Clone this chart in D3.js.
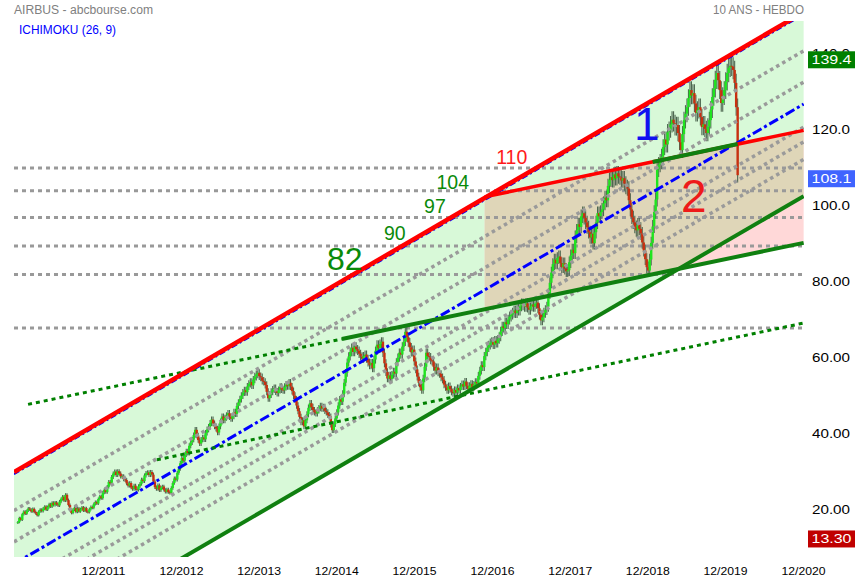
<!DOCTYPE html>
<html><head><meta charset="utf-8">
<script src="https://cdn.jsdelivr.net/npm/d3@7"></script>
<style>
body{margin:0;background:#fff;}
svg{display:block;font-family:Arial,"Liberation Sans",sans-serif;}
</style></head><body>
<svg id="c" width="855" height="580"></svg>
<script>
// ---------- DATA ----------
const weekStart = "2010-10-27";
const firstOpen = 16.6;
const closes = [
16.8,17.9,17.4,18.9,19.6,19.0,19.8,20.4,20.1,19.6,
20.3,19.5,19.1,18.6,19.6,20.1,19.7,20.4,20.9,20.1,
20.8,21.5,20.9,21.9,21.3,22.0,21.5,21.2,22.2,22.9,
23.5,22.5,24.0,22.6,21.3,20.0,19.2,20.1,20.6,19.5,
20.4,19.6,20.2,20.7,19.8,20.5,19.6,19.4,20.2,20.8,
20.6,21.6,22.1,21.7,22.9,23.6,23.1,24.6,25.3,24.7,
26.1,27.4,27.0,28.7,29.6,30.1,29.2,30.2,29.6,28.8,
28.9,28.1,27.9,27.0,26.4,27.1,25.9,25.5,26.4,25.6,
25.3,26.3,26.9,28.0,27.6,29.1,29.7,29.9,29.2,30.0,
29.3,27.5,26.0,25.5,26.5,25.2,25.9,26.2,25.3,24.8,
25.4,24.7,24.5,25.8,27.1,28.3,28.0,29.8,30.9,32.3,
33.7,33.0,34.6,35.5,35.0,36.9,37.8,38.5,39.7,41.1,
39.6,38.4,37.5,38.5,39.1,38.6,40.3,41.2,41.9,42.9,
43.8,42.8,42.0,41.4,40.4,42.0,43.3,44.6,43.6,44.3,
44.9,45.5,44.5,44.0,44.7,45.8,45.3,47.4,48.3,49.2,
50.1,50.9,51.5,51.0,52.5,53.2,53.7,52.8,54.3,55.1,
55.7,56.1,55.2,54.9,54.0,53.7,52.9,51.1,49.4,50.4,
51.1,51.7,52.1,51.2,50.8,51.6,52.4,51.7,51.5,52.4,
53.0,52.6,53.5,52.5,51.3,50.1,49.1,47.5,46.0,44.5,
43.1,43.6,42.0,43.6,45.2,46.9,48.1,47.1,46.3,45.7,
45.4,46.2,46.8,47.4,46.7,47.1,46.1,45.7,45.0,44.6,
42.5,41.0,42.6,44.1,45.7,47.5,49.1,48.5,50.6,53.5,
56.1,58.8,60.4,61.6,62.7,61.6,63.0,62.3,61.9,61.1,
60.4,59.8,60.5,60.9,59.8,58.8,58.1,58.7,57.3,59.6,
61.9,63.5,62.6,63.7,64.3,61.4,58.6,56.3,54.6,55.4,
54.5,55.6,56.4,55.9,58.9,60.1,61.4,60.9,63.0,64.3,
66.9,65.5,64.1,62.8,61.5,62.2,59.1,57.0,55.1,53.5,
52.3,51.5,54.6,57.7,61.4,60.5,60.2,59.4,59.1,57.7,
56.7,57.5,56.2,55.8,54.9,54.3,53.0,52.3,51.5,52.6,
51.8,51.1,50.7,51.6,50.9,52.1,51.5,52.5,53.1,52.5,
53.8,52.7,51.9,52.7,53.2,52.3,53.0,53.7,53.3,55.3,
56.7,58.1,57.6,60.5,61.6,62.7,63.4,64.0,64.3,63.5,
64.6,63.9,64.9,65.6,67.0,68.3,67.9,69.4,68.9,70.1,
70.9,71.4,71.9,72.5,71.8,73.3,72.5,73.6,74.3,73.9,
73.5,74.4,73.3,72.7,73.6,74.1,73.5,74.3,74.6,73.1,
71.4,69.9,70.7,71.9,72.6,73.5,76.9,79.8,82.5,84.7,
85.9,84.9,86.3,86.7,85.0,83.9,84.9,83.5,82.8,83.1,
85.2,87.0,88.5,87.6,91.9,93.6,95.2,94.5,97.3,98.1,
96.9,95.7,94.4,93.1,91.7,92.7,90.2,93.1,95.7,98.1,
97.3,98.4,99.1,100.7,102.2,101.5,105.3,106.9,107.6,106.8,
108.3,107.3,108.6,107.8,107.5,106.7,107.3,105.9,105.0,104.6,
101.5,99.1,97.0,95.7,94.5,93.6,95.1,94.0,92.8,90.4,
88.3,86.0,83.9,83.0,85.9,90.3,94.6,98.4,101.7,109.6,
110.9,111.7,113.0,115.5,117.5,116.2,119.4,120.1,121.5,122.7,
121.8,120.7,121.3,119.2,116.8,114.7,118.9,122.6,124.3,126.0,
128.4,130.5,129.1,129.7,127.0,124.5,125.3,126.0,123.4,120.8,
121.5,120.3,119.2,120.9,122.6,125.4,128.7,130.9,133.2,135.0,
133.1,130.5,127.1,128.9,130.5,132.8,135.0,136.4,136.9,136.7,
135.8,132.4,126.0,108.1
];
const wickPct = 0.018;

const yTicks = [20,40,60,80,100,120,140];
const yTickLabels = ["20.00","40.00","60.00","80.00","100.0","120.0","140.0"];
const xTickDates = ["2011-12-01","2012-12-01","2013-12-01","2014-12-01","2015-12-01","2016-12-01","2017-12-01","2018-12-01","2019-12-01","2020-12-01"];
const xTickLabels = ["12/2011","12/2012","12/2013","12/2014","12/2015","12/2016","12/2017","12/2018","12/2019","12/2020"];

const channelTop = [["2010-10-09",30.0],["2020-12-04",151.0]];
const channelBottom = [["2010-10-09",-18.4],["2020-12-04",102.6]];
const fibLevels = [0.21,0.38,0.625,0.705,0.8];
const midLevel = 0.5;
const targetTop = [["2016-10-28",102.4],["2020-12-04",119.9]];
const supportDotted = [["2010-12-14",47.8],["2014-12-27",65.0]];
const supportSolid = [["2014-12-27",65.0],["2020-12-04",90.3]];
const supportHighlight = [["2018-12-26",111.6],["2020-01-29",116.3]];
const lowerSupport = [["2012-08-10",33.2],["2020-12-04",69.2]];
const hLevels = [110,104,97,89.5,82,67.9];

const levelLabels = ["82","90","97","104","110"];
const levelLabelDates = ["2015-01-10","2015-09-02","2016-03-08","2016-05-31","2017-03-04"];
const levelLabelValues = [86.3,92.9,100.0,106.3,112.9];
const waveLabels = ["1","2"];
const waveLabelDates = ["2018-11-28","2019-07-07"];
const waveLabelValues = [121.8,102.9];

const lastClose = 108.1, periodHigh = 139.4, periodLow = 13.30;
const titleLeft = "AIRBUS - abcbourse.com";
const indicatorLabel = "ICHIMOKU (26, 9)";
const titleRight = "10 ANS - HEBDO";

// ---------- CHART ----------
const parse = d3.timeParse("%Y-%m-%d");
const svg = d3.select("#c");
const P = {l:14, r:804, t:21, b:557};
const x = d3.scaleTime().domain([parse("2011-12-01"), parse("2020-12-01")]).range([103,803]);
const y = d3.scaleLinear().domain([0,150]).range([586,16]);

const defs = svg.append("defs");
defs.append("clipPath").attr("id","plotClip").append("rect")
  .attr("x",P.l).attr("y",P.t).attr("width",P.r-P.l).attr("height",P.b-P.t);

const toPts = line => line.map(p=>[x(parse(p[0])), y(p[1])]);
const lineGen = d3.line();
function valueAt(line, ds){
  const t = parse(ds).getTime(), t0=parse(line[0][0]).getTime(), t1=parse(line[1][0]).getTime();
  return line[0][1] + (line[1][1]-line[0][1])*(t-t0)/(t1-t0);
}
const channelAt = f => channelTop.map((p,i)=>[p[0], p[1] + f*(channelBottom[i][1]-p[1])]);

const chanPoly = toPts(channelTop).concat(toPts(channelBottom).reverse());
defs.append("clipPath").attr("id","chanClip").append("path").attr("d", lineGen(chanPoly)+"Z");

const g = svg.append("g").attr("clip-path","url(#plotClip)");

// channel fill
g.append("path").attr("d", lineGen(chanPoly)+"Z").attr("fill","#d8f9d8");

// target zone
const tzBottom = [[targetTop[0][0], valueAt(supportSolid,targetTop[0][0])],[targetTop[1][0], valueAt(supportSolid,targetTop[1][0])]];
const tzPoly = toPts(targetTop).concat(toPts(tzBottom).reverse());
g.append("path").attr("d", lineGen(tzPoly)+"Z").attr("fill","#ffd8d8");
g.append("g").attr("clip-path","url(#chanClip)")
  .append("path").attr("d", lineGen(tzPoly)+"Z").attr("fill","#dfd6b8");

// horizontal levels
g.selectAll(".hl").data(hLevels).join("line").attr("class","hl")
  .attr("x1",P.l).attr("x2",P.r).attr("y1",d=>y(d)).attr("y2",d=>y(d))
  .attr("stroke","#999").attr("stroke-width",3).attr("stroke-dasharray","4,4");

// candles
const t0 = parse(weekStart);
const candles = closes.map((c,i)=>{
  const o = i ? closes[i-1] : firstOpen;
  return {d:d3.timeDay.offset(t0,7*i), o, c, h:Math.max(o,c)*(1+wickPct), l:Math.min(o,c)*(1-wickPct)};
});
const gc = g.append("g");
gc.selectAll("line").data(candles).join("line")
  .attr("x1",d=>x(d.d)).attr("x2",d=>x(d.d)).attr("y1",d=>y(d.h)).attr("y2",d=>y(d.l))
  .attr("stroke","#4d6650").attr("stroke-width",1.1);
gc.selectAll("rect").data(candles).join("rect")
  .attr("x",d=>x(d.d)-1.2).attr("width",2.4)
  .attr("y",d=>y(Math.max(d.o,d.c))).attr("height",d=>Math.max(1,Math.abs(y(d.o)-y(d.c))))
  .attr("fill",d=>d.c>=d.o?"#1fe41f":"#c83010");

// fib lines
fibLevels.forEach(f=>{
  g.append("path").attr("d", lineGen(toPts(channelAt(f)))).attr("fill","none")
    .attr("stroke","#9a9a9a").attr("stroke-width",3.5).attr("stroke-dasharray","3.5,3.5");
});
// blue lines
g.append("path").attr("d", lineGen(toPts(channelAt(midLevel)))).attr("fill","none")
  .attr("stroke","#0000ff").attr("stroke-width",3).attr("stroke-dasharray","10,3,3,3");
g.append("path").attr("d", lineGen(toPts(channelAt(0.012)))).attr("fill","none")
  .attr("stroke","#0000ff").attr("stroke-width",2).attr("stroke-dasharray","6,3,2,3");

// green supports
g.append("path").attr("d", lineGen(toPts(supportDotted))).attr("fill","none")
  .attr("stroke","#008000").attr("stroke-width",3).attr("stroke-dasharray","4,4");
g.append("path").attr("d", lineGen(toPts(lowerSupport))).attr("fill","none")
  .attr("stroke","#008000").attr("stroke-width",3).attr("stroke-dasharray","4,4");
g.append("path").attr("d", lineGen(toPts(supportSolid))).attr("fill","none")
  .attr("stroke","#108010").attr("stroke-width",4);

// channel borders
g.append("path").attr("d", lineGen(toPts(channelTop))).attr("fill","none")
  .attr("stroke","#ff0000").attr("stroke-width",4.5);
g.append("path").attr("d", lineGen(toPts(channelBottom))).attr("fill","none")
  .attr("stroke","#108010").attr("stroke-width",4);
g.append("path").attr("d", lineGen(toPts(targetTop))).attr("fill","none")
  .attr("stroke","#ff0000").attr("stroke-width",3.5);
g.append("path").attr("d", lineGen(toPts(supportHighlight))).attr("fill","none")
  .attr("stroke","#108010").attr("stroke-width",4);

// annotations
levelLabels.forEach((t,i)=>{
  svg.append("text").attr("x",x(parse(levelLabelDates[i]))).attr("y",y(levelLabelValues[i]))
    .attr("dy","0.36em").attr("text-anchor","middle")
    .attr("font-size", i===0?32:19.5)
    .attr("fill", t==="110" ? "#ff1a1a" : "#0a8a0a").text(t);
});
waveLabels.forEach((t,i)=>{
  svg.append("text").attr("x",x(parse(waveLabelDates[i]))).attr("y",y(waveLabelValues[i]))
    .attr("dy","0.36em").attr("text-anchor","middle").attr("font-size",46)
    .attr("fill", i===0 ? "#1010f0" : "#ee1a1a").text(t);
});

// axes
const ya = svg.append("g").attr("transform","translate(812,0)")
  .call(d3.axisRight(y).tickValues(yTicks).tickSize(0).tickPadding(0)
    .tickFormat((d,i)=>yTickLabels[i]));
ya.select(".domain").remove();
ya.selectAll("text").attr("font-size",12).attr("font-family","Arial, 'Liberation Sans', sans-serif")
  .attr("fill","#000").attr("textLength",38).attr("lengthAdjust","spacingAndGlyphs");

const xa = svg.append("g").attr("transform","translate(0,564)")
  .call(d3.axisBottom(x).tickValues(xTickDates.map(parse)).tickSize(0).tickPadding(3)
    .tickFormat((d,i)=>xTickLabels[i]));
xa.select(".domain").remove();
xa.selectAll("text").attr("font-size",11.5).attr("font-family","Arial, 'Liberation Sans', sans-serif")
  .attr("fill","#000").attr("textLength",44).attr("lengthAdjust","spacingAndGlyphs");

// value boxes
const boxes = [[periodHigh,"139.4","#008000"],[lastClose,"108.1","#3f64ff"],[periodLow,"13.30","#c00000"]];
boxes.forEach(b=>{
  const cy = y(b[0]) + 3.5;
  svg.append("rect").attr("x",808).attr("y",cy-8.5).attr("width",47).attr("height",17).attr("fill",b[2]);
  svg.append("text").attr("x",811.5).attr("y",cy).attr("dy","0.36em").attr("font-size",12.5)
    .attr("fill","#fff").attr("textLength",40).attr("lengthAdjust","spacingAndGlyphs").text(b[1]);
});

// titles
svg.append("text").attr("x",14).attr("y",13.5).attr("font-size",12).attr("fill","#808080")
  .attr("textLength",139).attr("lengthAdjust","spacingAndGlyphs").text(titleLeft);
svg.append("text").attr("x",19).attr("y",33.5).attr("font-size",12).attr("fill","#0000ff")
  .attr("textLength",97).attr("lengthAdjust","spacingAndGlyphs").text(indicatorLabel);
svg.append("text").attr("x",713).attr("y",13.5).attr("font-size",12).attr("fill","#808080")
  .attr("textLength",91).attr("lengthAdjust","spacingAndGlyphs").text(titleRight);
</script>
</body></html>
